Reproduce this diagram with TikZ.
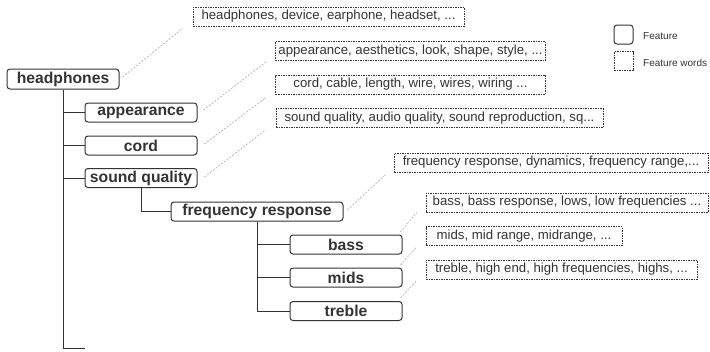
\documentclass[tikz,border=0pt]{standalone}
\usepackage{fontspec}
\setmainfont{Liberation Sans}
\definecolor{txt}{HTML}{333333}
\definecolor{linec}{HTML}{333333}
\definecolor{conn}{HTML}{A8A8A8}
\begin{document}
\begin{tikzpicture}[x=1pt,y=-1pt,
  feat/.style={draw=linec, line width=1pt, rounded corners=3pt, fill=white,
    font=\fontsize{15.7}{17}\selectfont\bfseries, text=txt, minimum height=19pt,
    inner sep=0pt, minimum width=112pt},
  words/.style={draw=linec, line width=0.7pt, dash pattern=on 1.5pt off 1pt,
    font=\fontsize{13.2}{15}\selectfont, text=txt, minimum height=19pt,
    inner ysep=0pt, inner xsep=3pt},
  tree/.style={draw=linec, line width=1pt},
  link/.style={draw=conn, line width=0.6pt, dash pattern=on 2pt off 1.5pt},
  legtext/.style={font=\fontsize{10}{12}\selectfont, text=txt, anchor=west, inner sep=0pt}
]
\useasboundingbox (0,0) rectangle (710,351);

% feature nodes
\node[feat, minimum width=112pt, minimum height=20pt] (hp) at (63,79) {headphones};
\node[feat] (ap) at (141,112.5) {appearance};
\node[feat] (cord) at (141,145.5) {cord};
\node[feat] (sq) at (141,178) {sound quality};
\node[feat, minimum width=172pt] (fr) at (257,211.5) {frequency response};
\node[feat] (bass) at (346,244.5) {bass};
\node[feat] (mids) at (346,277.5) {mids};
\node[feat] (treble) at (346,311) {treble};
\coordinate (endc) at (85,348);

% word nodes
\node[words, minimum width=271pt] (w1) at (328.5,16.5) {headphones, device, earphone, headset, ...};
\node[words, minimum width=270pt] (w2) at (410.5,51) {appearance, aesthetics, look, shape, style, ...};
\node[words, minimum width=270pt] (w3) at (410.5,84.5) {cord, cable, length, wire, wires, wiring ...};
\node[words, minimum width=327pt] (w4) at (439.5,118) {sound quality, audio quality, sound reproduction, sq...};
\node[words, minimum width=314pt] (w5) at (551,162.5) {frequency response, dynamics, frequency range,...};
\node[words, minimum width=282pt] (w6) at (567,202.5) {bass, bass response, lows, low frequencies ...};
\node[words, minimum width=196pt] (w7) at (524,236) {mids, mid range, midrange, ...};
\node[words, minimum width=271pt] (w8) at (561.5,269.5) {treble, high end, high frequencies, highs, ...};

% tree lines
\draw[tree] (hp.south) |- (ap.west);
\draw[tree] (hp.south) |- (cord.west);
\draw[tree] (hp.south) |- (sq.west);
\draw[tree] (hp.south) |- (endc);
\draw[tree] (sq.south) |- (fr.west);
\draw[tree] (fr.south) |- (bass.west);
\draw[tree] (fr.south) |- (mids.west);
\draw[tree] (fr.south) |- (treble.west);

% links
\draw[link] ([xshift=3pt,yshift=2pt]hp.east) -- ([xshift=-10pt,yshift=-2pt]w1.south west);
\draw[link] ([xshift=6pt,yshift=2.5pt]ap.east) -- ([xshift=-9pt,yshift=-1pt]w2.south west);
\draw[link] ([xshift=7pt,yshift=1.5pt]cord.east) -- ([xshift=-9pt,yshift=-3pt]w3.south west);
\draw[link] ([xshift=7pt,yshift=1pt]sq.east) -- ([xshift=-10pt,yshift=-2pt]w4.south west);
\draw[link] ([xshift=4pt,yshift=1.5pt]fr.east) -- ([xshift=-9pt,yshift=-3pt]w5.south west);
\draw[link] ([xshift=-2pt,yshift=12.5pt]bass.east) -- ([xshift=-9pt,yshift=0pt]w6.south west);
\draw[link] ([xshift=-2pt,yshift=12.5pt]mids.east) -- ([xshift=-9pt,yshift=-1pt]w7.south west);
\draw[link] ([xshift=-2pt,yshift=13pt]treble.east) -- ([xshift=-9pt,yshift=-1pt]w8.south west);

% legend
\node[draw=linec, line width=1pt, rounded corners=3pt, minimum width=19pt, minimum height=19pt, inner sep=0pt] (lf) at (623.5,34.5) {};
\node[legtext] (lft) at (643,36) {Feature};
\node[draw=linec, line width=0.7pt, dash pattern=on 1.5pt off 1pt, minimum width=19pt, minimum height=19pt, inner sep=0pt] (lw) at (623.5,61) {};
\node[legtext] (lwt) at (643,63) {Feature words};
\end{tikzpicture}
\end{document}
